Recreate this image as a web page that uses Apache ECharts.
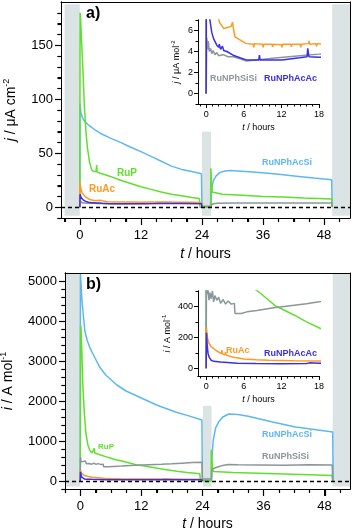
<!DOCTYPE html>
<html>
<head>
<meta charset="utf-8">
<script src="https://cdn.jsdelivr.net/npm/echarts@6/dist/echarts.min.js"></script>
<style>
  html, body { margin: 0; padding: 0; background: #fff; }
  #chart { width: 354px; height: 530px; }
</style>
</head>
<body>
<div id="chart"></div>
<script>
// ---- data: panel a, current density j (uA cm-2) vs t (hours)
const jRuNPhAcSi = [[0,0],[0.03,96],[0.2,88],[0.5,83],[1,79],[2,75],[3,71.5],[4,68.5],[6,64],[8,60],[10,55.5],[12,51.5],[14,47],[16,42.5],[18,38],[20,35],[22,33],[23.9,31],[24,0.5],[25.8,0.5],[25.85,12],[26,20],[26.3,25],[26.8,29],[27.5,32],[28.5,33.5],[29.5,34],[31,33.5],[34,32.5],[37,31.5],[40,30],[43,28.5],[46,27],[49.5,25.5],[49.6,0.5]];
const jRuP = [[0,0],[0.05,180],[0.15,176],[0.3,158],[0.6,128],[0.9,93],[1.2,70],[1.5,55],[1.9,42],[2.3,35],[2.7,33],[3.2,33],[3.3,39],[3.4,32.5],[4,31.5],[5,30],[6,28.5],[8,25],[10,22],[12,19],[14,16.5],[16,14],[18,12],[20,10.5],[22,9],[23.5,8],[23.6,0],[25.7,0],[25.75,36],[26,14],[26.3,12.5],[28,12],[32,11],[36,10],[40,9.5],[44,8.5],[49.5,7.5],[49.6,0]];
const jRuAc = [[0,0],[0.05,23],[0.2,17],[0.5,13],[1,10],[1.5,8.3],[1.9,7.2],[2.2,6.7],[2.8,6.2],[3.5,6.3],[4.0,6.4],[4.2,6.8],[4.4,6.0],[4.6,5.4],[5.4,5.1],[6.4,4.75],[7.5,4.7],[7.6,4.4],[7.7,4.75],[9,4.7],[9.1,4.4],[9.2,4.7],[10.5,4.7],[10.6,4.45],[10.7,4.7],[12,4.65],[12.1,4.4],[12.2,4.7],[13.5,4.7],[13.6,4.45],[13.7,4.7],[15,4.7],[15.1,4.4],[15.2,4.7],[16.3,4.75],[16.4,5.0],[16.5,4.7],[17.5,4.75],[17.6,4.5],[17.7,4.75],[18,4.7],[20,4.6],[22,4.5],[23.9,4.4],[24,0]];
const jRuNPhAcAc = [[0,0],[0.05,12],[0.2,9.5],[0.4,8],[0.6,7],[0.9,5.8],[1.2,5.2],[1.7,4.6],[2.0,4.4],[2.1,4.7],[2.3,4.2],[2.6,4.5],[2.8,4.1],[3.3,4.0],[4.3,3.65],[5.4,3.4],[6.4,3.2],[8.4,3.2],[8.5,3.65],[8.6,3.2],[12.1,3.2],[12.2,3.35],[14.9,3.4],[16.1,3.5],[16.2,4.3],[16.4,3.5],[18,3.45],[20,3.4],[23.9,3.3],[24,0]];
const jRuNPhSiSi = [[0,0],[0.1,5.3],[0.25,4.2],[0.35,5.0],[0.5,4.0],[0.7,4.3],[0.9,3.8],[1.1,4.1],[1.4,3.7],[1.7,3.9],[2,3.6],[2.7,3.7],[3.5,3.5],[4.3,3.5],[5.4,3.3],[6.4,3.1],[8,3.2],[10.6,3.35],[13.2,3.5],[15.9,3.65],[18,3.75],[21,3.9],[23.9,4],[24,0.8],[25.8,0.8],[26,3],[27,3.6],[30,3.9],[40,4],[49.5,4],[49.6,0.3]];

// ---- data: panel b, current i (A mol-1) vs t (hours)
const iRuNPhAcSi = [[0,0],[0.03,5200],[0.3,4575],[0.6,4150],[0.9,3750],[1.4,3500],[1.9,3330],[3,3050],[3.9,2830],[5,2650],[7.2,2400],[9,2250],[12,2075],[15,1900],[18.7,1725],[21,1640],[23.9,1525],[24,20],[25.8,20],[25.85,500],[26.1,1000],[26.6,1330],[27.2,1480],[28,1600],[29.2,1675],[31,1660],[33,1620],[35.7,1540],[38,1470],[42.3,1350],[46,1290],[49.6,1225],[49.7,10]];
const iRuP = [[0,0],[0.05,3900],[0.15,3800],[0.3,3300],[0.5,2400],[0.8,1700],[1.1,1200],[1.5,900],[1.9,760],[2.3,700],[2.6,720],[2.75,820],[2.85,700],[3.2,690],[4,650],[5,610],[6,570],[7,530],[8.2,500],[10,440],[11,405],[12,385],[14,345],[16,300],[18,262],[19,245],[21,215],[23.5,180],[23.6,0],[25.7,0],[25.75,780],[26.0,300],[26.2,240],[30,215],[35,195],[40,175],[45,155],[49.5,135],[49.6,0]];
const iRuAc = [[0,0],[0.05,265],[0.2,200],[0.4,165],[0.8,140],[1.6,115],[2.4,95],[2.5,118],[2.6,92],[3.0,88],[3.1,105],[3.2,85],[4.2,73],[4.5,85],[4.6,70],[6,60],[8,55],[10,52],[14,49],[18,47],[21,45],[23.9,44],[24,0]];
const iRuNPhAcAc = [[0,0],[0.05,230],[0.15,160],[0.3,95],[0.5,70],[0.8,52],[1.2,45],[2.3,41],[5,33],[8,31],[12,30],[16,31],[16.5,35],[18,33],[21,32],[23.9,32],[24,0]];
const iRuNPhSiSi = [[0,0],[0.05,600],[0.15,480],[0.3,510],[0.45,440],[0.6,490],[0.8,450],[1,500],[1.2,430],[1.4,470],[1.7,440],[2,460],[2.3,420],[2.7,445],[3.1,415],[3.5,435],[4,415],[4.5,420],[4.6,355],[5.6,355],[6.5,365],[8.1,374],[10.8,391],[13.4,405],[16,417],[18,430],[20,445],[22,460],[23.9,470],[24,50],[25.8,50],[25.9,300],[26.3,320],[27,350],[28,390],[29,410],[31,405],[35,400],[40,395],[45,405],[49.5,400],[49.6,0]];

// shaded time windows: [tStart, tEnd, yLow, yHigh]
const shadeA = [[-3,0,-8,188],[24,25.8,-8,70],[49.6,53.1,-8,188]];
const shadeB = [[-3,0,-140,5200],[24.1,25.8,-140,1880],[49.6,53,-140,5200]];

// axis ranges
const rangeTA = [-3.7, 53.1], rangeJ = [-10, 190];
const rangeTB = [-3, 53], rangeI = [-200, 5200];
const rangeTIn = [-1.3, 18], rangeJIn = [-1, 7], rangeIIn = [-50, 500];

// tick values
const hoursMajor = [0,12,24,36,48];
const hoursMinor = [-3,3,6,9,15,18,21,27,30,33,39,42,45,51];
const jMajor = [0,50,100,150];
const jMinor = [-10,10,20,30,40,60,70,80,90,110,120,130,140,160,170,180];
const iMajor = [0,1000,2000,3000,4000,5000];
const iMinor = [-200,200,400,600,800,1200,1400,1600,1800,2200,2400,2600,2800,3200,3400,3600,3800,4200,4400,4600,4800];
const insetHoursMajor = [0,6,12,18];
const insetHoursMinor = [-1,1,2,3,4,5,7,8,9,10,11,13,14,15,16,17];
const insetJMajor = [0,2,4,6];
const insetJMinor = [-1,1,3,5,7];
const insetIMajor = [0,200,400];
const insetIMinor = [100,300,500];

const font = "'Liberation Sans', Arial, Helvetica, sans-serif";
const cBlue = '#5db8f2', cGreen = '#5fe02c', cOrange = '#ff9a22', cNavy = '#3b2fe6', cGrey = '#8b969a';
const cShade = '#dce3e4';

function nameStyle(fs, sup) {
  return {
    fontSize: fs, fontFamily: font, color: '#000', lineHeight: fs + 4,
    rich: {
      i: { fontSize: fs, fontFamily: font, fontStyle: 'italic', color: '#000', lineHeight: fs + 4 },
      s: { fontSize: sup, fontFamily: font, color: '#000', verticalAlign: 'top', lineHeight: sup + 1 }
    }
  };
}

function plain(v) { return String(v); }

function axisPair(dim, grid, range, major, minor, cfg) {
  const pos = dim === 'x' ? 'bottom' : 'left';
  const main = {
    type: 'value', gridIndex: grid, min: range[0], max: range[1], position: pos, z: 14,
    axisLine: { show: true, onZero: false, lineStyle: { color: '#000', width: 1 } },
    axisTick: { show: true, inside: false, length: cfg.big, customValues: major, lineStyle: { color: '#000', width: 1 } },
    axisLabel: { show: true, customValues: major, formatter: plain, margin: cfg.margin, fontSize: cfg.fs, color: '#000', fontFamily: font },
    splitLine: { show: false },
    name: cfg.name, nameLocation: 'middle', nameGap: cfg.gap, nameRotate: dim === 'y' ? 90 : 0,
    nameTextStyle: nameStyle(cfg.nfs, cfg.sup)
  };
  const small = {
    type: 'value', gridIndex: grid, min: range[0], max: range[1], position: pos, z: 14,
    axisLine: { show: true, onZero: false, lineStyle: { color: '#000', width: 1 } },
    axisTick: { show: true, inside: false, length: cfg.small, customValues: minor, lineStyle: { color: '#000', width: 1 } },
    axisLabel: { show: false },
    splitLine: { show: false }
  };
  return [main, small];
}

// plain frame line on the far side of a main panel
function frame(dim, grid, range) {
  return {
    type: 'value', gridIndex: grid, min: range[0], max: range[1], position: dim === 'x' ? 'top' : 'right', z: 14,
    axisLine: { show: true, onZero: false, lineStyle: { color: '#000', width: 1 } },
    axisTick: { show: false }, axisLabel: { show: false }, splitLine: { show: false }
  };
}

const mainX = { big: 7, small: 4, margin: 11, fs: 13, nfs: 14, sup: 9 };
const mainY = { big: 6, small: 3.5, margin: 8, fs: 13, nfs: 14, sup: 9 };
const insX = { big: 4, small: 2.5, margin: 6, fs: 9, nfs: 9, sup: 6 };
const insY = { big: 4, small: 2.5, margin: 5, fs: 9, nfs: 9, sup: 6 };

const xAxes = [].concat(
  axisPair('x', 0, rangeTA, hoursMajor, hoursMinor, Object.assign({ name: '{i|t} / hours', gap: 27 }, mainX)),
  axisPair('x', 1, rangeTIn, insetHoursMajor, insetHoursMinor, Object.assign({ name: '{i|t} / hours', gap: 17 }, insX)),
  axisPair('x', 2, rangeTB, hoursMajor, hoursMinor, Object.assign({ name: '{i|t} / hours', gap: 26 }, mainX)),
  axisPair('x', 3, rangeTIn, insetHoursMajor, insetHoursMinor, Object.assign({ name: '{i|t} / hours', gap: 17 }, insX)),
  [frame('x', 0, rangeTA), frame('x', 2, rangeTB)]
);
const yAxes = [].concat(
  axisPair('y', 0, rangeJ, jMajor, jMinor, Object.assign({ name: '{i|j} / μA cm{s|-2}', gap: 33 }, mainY)),
  axisPair('y', 1, rangeJIn, insetJMajor, insetJMinor, Object.assign({ name: '{i|j} / μA mol{s|-2}', gap: 15 }, insY)),
  axisPair('y', 2, rangeI, iMajor, iMinor, Object.assign({ name: '{i|i} / A mol{s|-1}', gap: 37 }, mainY)),
  axisPair('y', 3, rangeIIn, insetIMajor, insetIMinor, Object.assign({ name: '{i|i} / A mol{s|-1}', gap: 19 }, insY)),
  [frame('y', 0, rangeJ), frame('y', 2, rangeI)]
);

function lines(list, xi, yi, z) {
  return list.map(function (s) {
    return {
      type: 'line', name: s[0], data: s[1], xAxisIndex: xi, yAxisIndex: yi, z: z,
      showSymbol: false, symbol: 'none', clip: true, animation: false,
      lineStyle: { color: s[2], width: 1.5 }, itemStyle: { color: s[2] }
    };
  });
}

function shadeSeries(spans, xi, yi) {
  return {
    type: 'line', data: [], xAxisIndex: xi, yAxisIndex: yi, z: 1, animation: false,
    markArea: {
      silent: true, itemStyle: { color: cShade },
      data: spans.map(function (s) { return [{ xAxis: s[0], yAxis: s[2] }, { xAxis: s[1], yAxis: s[3] }]; })
    }
  };
}

function zeroSeries(xi, yi, z, type, width) {
  return {
    type: 'line', data: [], xAxisIndex: xi, yAxisIndex: yi, z: z, animation: false,
    markLine: {
      silent: true, symbol: ['none', 'none'], label: { show: false },
      lineStyle: { color: '#000', type: type, width: width },
      data: [{ yAxis: 0 }]
    }
  };
}

const listA = [['RuNPhAcSi', jRuNPhAcSi, cBlue], ['RuP', jRuP, cGreen], ['RuNPhSiSi', jRuNPhSiSi, cGrey], ['RuAc', jRuAc, cOrange], ['RuNPhAcAc', jRuNPhAcAc, cNavy]];
const listB = [['RuNPhAcSi', iRuNPhAcSi, cBlue], ['RuP', iRuP, cGreen], ['RuNPhSiSi', iRuNPhSiSi, cGrey], ['RuAc', iRuAc, cOrange], ['RuNPhAcAc', iRuNPhAcAc, cNavy]];

const series = [].concat(
  [shadeSeries(shadeA, 0, 0)],
  lines(listA, 0, 0, 2),
  [zeroSeries(0, 0, 3, [4, 3], 1.3)],
  [zeroSeries(2, 2, 13, [1, 2], 1)],
  lines(listA, 2, 2, 12),
  [shadeSeries(shadeB, 4, 4)],
  lines(listB, 4, 4, 2),
  [zeroSeries(4, 4, 3, [4, 3], 1.3)],
  [zeroSeries(6, 6, 13, [1, 2], 1)],
  lines(listB, 6, 6, 12)
);

function label(text, left, top, color, size) {
  return { type: 'text', left: left, top: top, z: 30,
    style: { text: text, fill: color, font: 'bold ' + size + 'px ' + font } };
}

const labels = [
  label('a)', 86, 6, '#000', 16),
  label('b)', 86, 277, '#000', 16),
  label('RuP', 117, 168, cGreen, 10),
  label('RuAc', 89, 184, cOrange, 10),
  label('RuNPhAcSi', 262, 158, cBlue, 9),
  label('RuNPhSiSi', 210, 74, cGrey, 9),
  label('RuNPhAcAc', 264, 74, cNavy, 9),
  label('RuP', 98, 443, cGreen, 8),
  label('RuNPhAcSi', 262, 430, cBlue, 9),
  label('RuNPhSiSi', 262, 452, cGrey, 9),
  label('RuAc', 226, 346, cOrange, 9),
  label('RuNPhAcAc', 264, 349, cNavy, 9)
];

const option = {
  animation: false,
  grid: [
    { left: 61, top: 2, width: 289, height: 216, show: false, outerBoundsMode: 'none', z: 0 },
    { left: 198, top: 20, width: 121, height: 84, show: true, borderWidth: 0, backgroundColor: '#fff', outerBoundsMode: 'none', z: 10 },
    { left: 65, top: 273, width: 285, height: 216, show: false, outerBoundsMode: 'none', z: 0 },
    { left: 198, top: 291, width: 121, height: 85, show: true, borderWidth: 0, backgroundColor: '#fff', outerBoundsMode: 'none', z: 10 }
  ],
  xAxis: xAxes,
  yAxis: yAxes,
  series: series,
  graphic: labels
};

const chart = echarts.init(document.getElementById('chart'), null, { renderer: 'canvas' });
chart.setOption(option);

// outward tick marks for the two main panels, placed through the axes' own scales
function ticksX(xi, yi, yMin, values, len) {
  const y = chart.convertToPixel({ yAxisIndex: yi }, yMin);
  return values.map(function (v) {
    const x = Math.round(chart.convertToPixel({ xAxisIndex: xi }, v)) + 0.5;
    return { type: 'line', z: 40, silent: true, shape: { x1: x, y1: y, x2: x, y2: y + len }, style: { stroke: '#000', lineWidth: 1.2 } };
  });
}
function ticksY(xi, yi, xMin, values, len) {
  const x = chart.convertToPixel({ xAxisIndex: xi }, xMin);
  return values.map(function (v) {
    const y = Math.round(chart.convertToPixel({ yAxisIndex: yi }, v)) + 0.5;
    return { type: 'line', z: 40, silent: true, shape: { x1: x - len, y1: y, x2: x, y2: y }, style: { stroke: '#000', lineWidth: 1.2 } };
  });
}

const tickMarks = [].concat(
  ticksX(0, 0, rangeJ[0], hoursMajor, 7), ticksX(0, 0, rangeJ[0], hoursMinor, 4),
  ticksY(0, 0, rangeTA[0], jMajor, 6), ticksY(0, 0, rangeTA[0], jMinor, 3.5),
  ticksX(4, 4, rangeI[0], hoursMajor, 7), ticksX(4, 4, rangeI[0], hoursMinor, 4),
  ticksY(4, 4, rangeTB[0], iMajor, 6), ticksY(4, 4, rangeTB[0], iMinor, 3.5)
);

chart.setOption({ graphic: labels.concat(tickMarks) });
</script>
</body>
</html>
